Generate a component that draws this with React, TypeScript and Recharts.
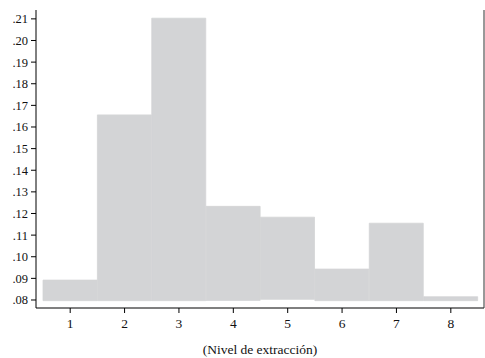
import { BarChart, Bar, XAxis, YAxis } from "recharts";

const levels = ["1", "2", "3", "4", "5", "6", "7", "8"];
const lows = [0.0797, 0.0797, 0.0797, 0.0798, 0.0803, 0.0797, 0.0797, 0.0797];
const highs = [0.0892, 0.1656, 0.2103, 0.1233, 0.1183, 0.0943, 0.1155, 0.0815];
const yTicks = [0.08, 0.09, 0.1, 0.11, 0.12, 0.13, 0.14, 0.15, 0.16, 0.17, 0.18, 0.19, 0.2, 0.21];

const data = levels.map((name, i) => ({ name, range: [lows[i], highs[i]] }));

const fmt = (v: number) => v.toFixed(2).replace(/^0/, "");

const font = "'Liberation Serif', serif";

export default function App() {
  return (
    <div style={{ position: "absolute", left: 0, top: 0, background: "#fff" }}>
      <BarChart
        width={485}
        height={358}
        data={data}
        barCategoryGap={0}
        margin={{ top: 10, right: 0, bottom: 0, left: 0 }}
      >
        <XAxis
          dataKey="name"
          padding={{ left: 7, right: 6 }}
          height={50}
          tickSize={5}
          tickMargin={5}
          stroke="#000"
          tick={{ fill: "#111", fontSize: 13.5, fontFamily: font }}
          label={{
            value: "(Nivel de extracción)",
            position: "insideBottom",
            offset: 4,
            fill: "#111",
            fontSize: 13.5,
            fontFamily: font,
          }}
        />
        <XAxis
          xAxisId="top"
          orientation="top"
          dataKey="name"
          height={0}
          tick={false}
          tickLine={false}
          stroke="#333"
          strokeWidth={1.5}
        />
        <YAxis
          domain={[0.0763, 0.2141]}
          ticks={yTicks}
          allowDataOverflow
          width={36}
          tickSize={5}
          tickMargin={3}
          interval={0}
          tickFormatter={fmt}
          stroke="#000"
          tick={{ fill: "#111", fontSize: 12.5, fontFamily: font }}
        />
        <YAxis
          yAxisId="right"
          orientation="right"
          width={1}
          tick={false}
          tickLine={false}
          stroke="#333"
        />
        <Bar
          dataKey="range"
          fill="#d3d4d6"
          stroke="#d3d4d6"
          strokeWidth={0.8}
          isAnimationActive={false}
        />
      </BarChart>
    </div>
  );
}
